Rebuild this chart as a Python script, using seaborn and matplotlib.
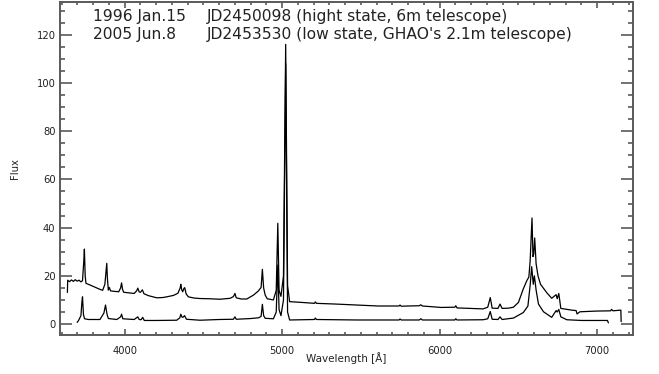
import matplotlib
matplotlib.use('Agg')
import matplotlib.pyplot as plt
from matplotlib.ticker import MultipleLocator
import seaborn as sns
import pandas as pd

# high state, 1996 Jan.15
high_wave = [3636, 3638, 3650, 3662, 3674, 3686, 3698, 3710, 3722, 3732,
             3740, 3744, 3749, 3754, 3780, 3815, 3843, 3860, 3874, 3882,
             3886, 3890, 3896, 3902, 3910, 3930, 3962, 3974, 3980, 3986,
             3993, 4030, 4060, 4076, 4083, 4092, 4100, 4112, 4122, 4150,
             4203, 4240, 4267, 4310, 4338, 4352, 4356, 4362, 4368, 4376,
             4381, 4390, 4404, 4440, 4478, 4540, 4605, 4670, 4690, 4700,
             4708, 4740, 4775, 4817, 4848, 4866, 4874, 4882, 4892, 4905,
             4944, 4962, 4972, 4980, 4992, 5008, 5022, 5034, 5047, 5120,
             5205, 5210, 5218, 5341, 5475, 5608, 5742, 5748, 5756, 5800,
             5870, 5880, 5890, 6009, 6096, 6102, 6110, 6196, 6276, 6305,
             6321, 6333, 6370, 6383, 6396, 6436, 6468, 6500, 6530, 6553,
             6566, 6574, 6586, 6592, 6597, 6603, 6612, 6624, 6640, 6680,
             6711, 6739, 6746, 6756, 6769, 6837, 6866, 6872, 6890, 6997,
             7085, 7091, 7100, 7150, 7152]
high_flux = [13.1, 18.2, 17.6, 18.3, 17.7, 18.4, 17.8, 18.2, 17.5, 18.0,
             26.0, 31.1, 20.0, 16.9, 16.2, 15.2, 14.4, 14.0, 16.5, 22.0,
             25.2, 19.0, 14.1, 15.2, 13.8, 13.6, 13.4, 15.0, 17.1, 14.5,
             13.2, 12.9, 12.7, 13.8, 14.9, 13.3, 13.2, 14.2, 12.6, 11.8,
             10.9, 11.0, 11.3, 11.9, 12.8, 15.0, 16.5, 14.2, 13.4, 14.8,
             15.1, 12.5, 11.3, 10.8, 10.6, 10.5, 10.3, 10.7, 11.4, 12.7,
             10.9, 10.4, 10.4, 12.0, 13.7, 15.2, 22.7, 15.0, 12.0, 10.5,
             10.0, 14.0, 41.8, 14.0, 11.5, 20.0, 116.0, 16.0, 9.3, 9.0,
             8.6, 9.2, 8.6, 8.3, 7.9, 7.5, 7.5, 7.9, 7.4, 7.5,
             7.6, 8.0, 7.5, 6.9, 7.0, 7.6, 6.7, 6.5, 6.3, 7.0,
             11.0, 6.6, 6.5, 8.3, 6.5, 6.6, 7.0, 9.0, 14.5, 18.0,
             19.5, 26.0, 44.0, 28.0, 29.0, 35.7, 25.0, 20.0, 16.5, 13.0,
             10.7, 12.2, 10.5, 12.7, 6.5, 5.8, 5.6, 4.2, 5.1, 5.4,
             5.5, 6.1, 5.5, 5.8, 1.0]

# low state, 2005 Jun.8
low_wave = [3698, 3706, 3722, 3728, 3732, 3738, 3745, 3770, 3843, 3868,
            3878, 3888, 3896, 3950, 3974, 3980, 3988, 4060, 4083, 4092,
            4104, 4114, 4124, 4200, 4330, 4350, 4356, 4364, 4370, 4380,
            4392, 4478, 4600, 4690, 4700, 4708, 4800, 4850, 4866, 4874,
            4882, 4892, 4944, 4962, 4972, 4980, 4992, 5008, 5022, 5034,
            5047, 5205, 5210, 5218, 5475, 5742, 5748, 5756, 5870, 5880,
            5890, 6096, 6102, 6110, 6276, 6305, 6321, 6333, 6370, 6383,
            6396, 6468, 6531, 6560, 6574, 6584, 6594, 6601, 6612, 6627,
            6659, 6711, 6739, 6746, 6756, 6769, 6807, 6900, 7065, 7071]
low_flux = [0.7, 1.4, 3.5, 9.0, 11.3, 4.0, 2.2, 1.9, 1.9, 4.6,
            7.9, 4.0, 2.3, 1.9, 3.0, 4.1, 2.2, 1.9, 3.0, 1.9,
            1.8, 2.8, 1.5, 1.5, 1.6, 2.6, 4.1, 2.9, 2.8, 3.5,
            2.0, 1.6, 1.9, 2.0, 3.0, 2.0, 2.3, 2.6, 3.2, 8.2,
            3.5, 2.4, 2.2, 5.0, 24.5, 6.0, 3.5, 10.0, 108.0, 5.0,
            1.7, 1.9, 2.5, 1.9, 1.7, 1.7, 2.1, 1.7, 1.7, 2.2,
            1.7, 1.7, 2.2, 1.7, 1.8, 2.2, 5.2, 2.0, 1.9, 3.0,
            1.9, 2.5, 4.8, 7.5, 16.0, 23.8, 16.5, 20.0, 14.1, 8.3,
            5.1, 2.8, 5.6, 5.0, 6.1, 3.0, 1.8, 1.5, 1.5, 0.5]

dates = ['1996 Jan.15', '2005 Jun.8']
notes = ['JD2450098 (hight state, 6m telescope)',
         "JD2453530 (low state, GHAO's 2.1m telescope)"]

df = pd.concat([
    pd.DataFrame({'wave': high_wave, 'flux': high_flux, 'epoch': dates[0]}),
    pd.DataFrame({'wave': low_wave, 'flux': low_flux, 'epoch': dates[1]}),
])

sns.set_style('ticks')
plt.rcParams['font.family'] = ['DejaVu Sans']
axis_grey = '#5a5a5a'

fig = plt.figure(figsize=(6.59, 3.74), dpi=100)
ax = fig.add_axes([0.0915, 0.1051, 0.869, 0.8904])

sns.lineplot(data=df, x='wave', y='flux', units='epoch', estimator=None,
             sort=False, color='black', linewidth=0.9, ax=ax, legend=False)

ax.set_xlim(3591, 7227)
ax.set_ylim(-4.4, 133.7)
ax.xaxis.set_major_locator(MultipleLocator(1000))
ax.xaxis.set_minor_locator(MultipleLocator(100))
ax.yaxis.set_major_locator(MultipleLocator(20))
ax.yaxis.set_minor_locator(MultipleLocator(5))

ax.tick_params(axis='both', which='both', direction='in', top=True, right=True,
               color=axis_grey, width=1.2, labelsize=7.2, labelcolor='#222222')
ax.tick_params(axis='x', which='major', length=4.3, pad=8)
ax.tick_params(axis='x', which='minor', length=2.0)
ax.tick_params(axis='y', which='major', length=8.4, pad=3.5)
ax.tick_params(axis='y', which='minor', length=3.6)
for s in ax.spines.values():
    s.set_color(axis_grey)
    s.set_linewidth(1.4)

ax.set_xlabel('Wavelength [Å]', fontsize=7.5, color='#222222')
ax.set_ylabel('Flux', fontsize=7.2, color='#222222')
ax.xaxis.set_label_coords(0.5, -0.052)
ax.yaxis.set_label_coords(-0.07, 0.5)

for i in range(2):
    y = 0.943 - i * 0.054
    ax.text(0.057, y, dates[i], transform=ax.transAxes, fontsize=11.2,
            color='#222222', va='baseline')
    ax.text(0.255, y, notes[i], transform=ax.transAxes, fontsize=11.2,
            color='#222222', va='baseline')

fig.savefig('out.png', dpi=100)
